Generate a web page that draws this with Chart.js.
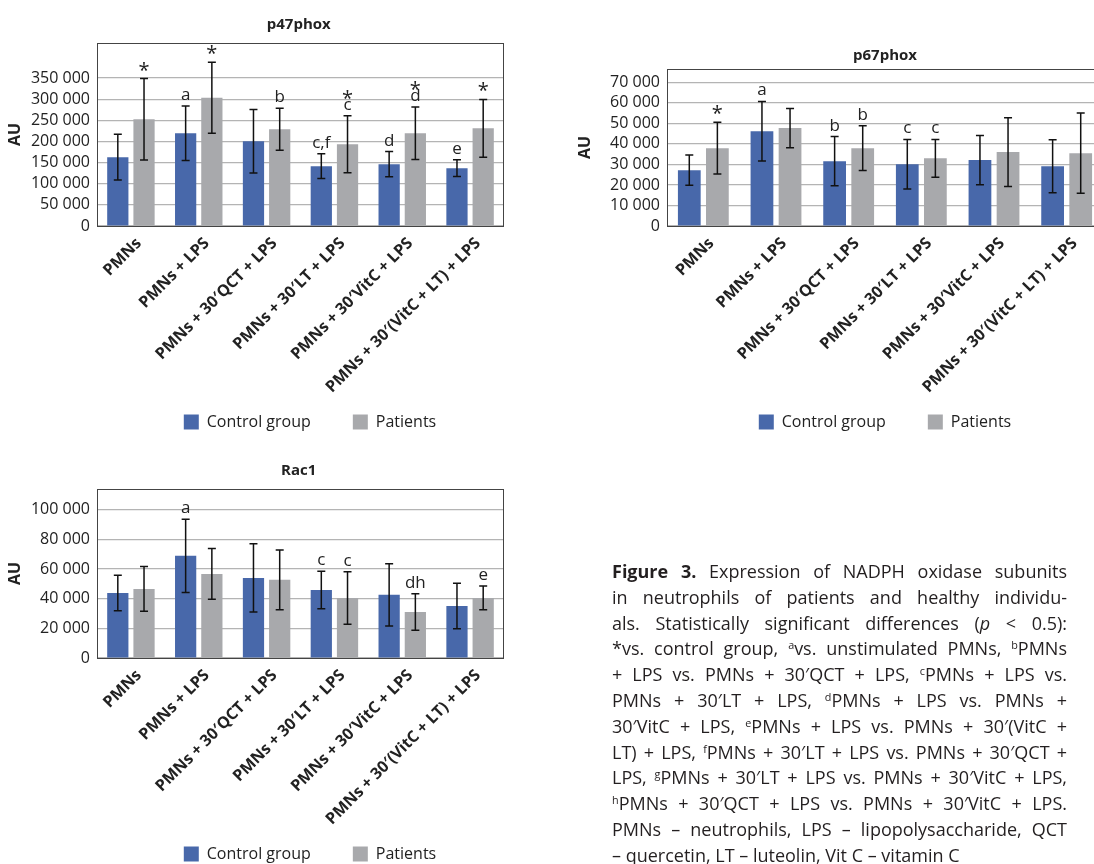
<!DOCTYPE html>
<html>
<head>
<meta charset="utf-8">
<script src="https://cdn.jsdelivr.net/npm/chart.js@4"></script>
<style>
html, body { margin: 0; padding: 0; background: #fff; overflow: hidden; width: 1094px; height: 864px; }
canvas { position: absolute; }
#c1 { left: 0; top: 0; }
#c2 { left: 575px; top: 0; }
#c3 { left: 0; top: 440px; }
#caption { position: absolute; left: 612px; top: 559px; width: 455px; font-family: 'Open Sans', sans-serif; font-size: 18px; line-height: 25.8px; color: #231f20; }
#caption div { white-space: nowrap; text-align: justify; text-align-last: justify; }
#caption div.last { text-align-last: left; }
sup { font-size: 0.6em; line-height: 0; vertical-align: 0.6em; }
</style>
</head>
<body>
<canvas id="c1" width="620" height="440"></canvas>
<canvas id="c2" width="620" height="440"></canvas>
<canvas id="c3" width="620" height="432"></canvas>
<div id="caption">
<div><b>Figure 3.</b> Expression of NADPH oxidase subunits</div>
<div>in neutrophils of patients and healthy individu-</div>
<div>als. Statistically significant differences (<i>p</i> &lt; 0.5):</div>
<div>*vs. control group, <sup>a</sup>vs. unstimulated PMNs, <sup>b</sup>PMNs</div>
<div>+ LPS vs. PMNs + 30′QCT + LPS, <sup>c</sup>PMNs + LPS vs.</div>
<div>PMNs + 30′LT + LPS, <sup>d</sup>PMNs + LPS vs. PMNs +</div>
<div>30′VitC + LPS, <sup>e</sup>PMNs + LPS vs. PMNs + 30′(VitC +</div>
<div>LT) + LPS, <sup>f</sup>PMNs + 30′LT + LPS vs. PMNs + 30′QCT +</div>
<div>LPS, <sup>g</sup>PMNs + 30′LT + LPS vs. PMNs + 30′VitC + LPS,</div>
<div><sup>h</sup>PMNs + 30′QCT + LPS vs. PMNs + 30′VitC + LPS.</div>
<div>PMNs – neutrophils, LPS – lipopolysaccharide, QCT</div>
<div class="last">– quercetin, LT – luteolin, Vit C – vitamin C</div>
</div>
<script>
// shared categories
const groups = ['PMNs', 'PMNs + LPS', 'PMNs + 30′QCT + LPS', 'PMNs + 30′LT + LPS', 'PMNs + 30′VitC + LPS', 'PMNs + 30′(VitC + LT) + LPS'];
const seriesNames = ['Control group', 'Patients'];
const seriesColors = ['#4868aa', '#a8a9ac'];

// p47phox
const p47Control = [162800, 219400, 200600, 141600, 146300, 136900];
const p47ControlSD = [54200, 64500, 75300, 29500, 29800, 19600];
const p47Patients = [252500, 303600, 228900, 193500, 219400, 231200];
const p47PatientsSD = [96300, 84100, 49500, 67600, 62100, 68400];
const p47ControlMarks = ['', 'a', '', 'c,f', 'd', 'e'];
const p47PatientsMarks = ['*', '*', 'b', '*\nc', '*\nd', '*'];
const p47Ticks = [0, 50000, 100000, 150000, 200000, 250000, 300000, 350000];

// p67phox
const p67Control = [27200, 46200, 31600, 30100, 32100, 29100];
const p67ControlSD = [7400, 14500, 12000, 12100, 12000, 12900];
const p67Patients = [37900, 47700, 37900, 33000, 36000, 35500];
const p67PatientsSD = [12600, 9600, 10900, 9200, 16700, 19600];
const p67ControlMarks = ['', 'a', 'b', 'c', '', ''];
const p67PatientsMarks = ['*', '', 'b', 'c', '', ''];
const p67Ticks = [0, 10000, 20000, 30000, 40000, 50000, 60000, 70000];

// Rac1
const racControl = [43900, 68900, 54000, 45900, 42600, 35100];
const racControlSD = [12000, 24700, 23000, 12600, 21000, 15400];
const racPatients = [46600, 56700, 52700, 40500, 31100, 40500];
const racPatientsSD = [15100, 17100, 20200, 17700, 12300, 8000];
const racControlMarks = ['', 'a', '', 'c', '', ''];
const racPatientsMarks = ['', '', '', 'c', 'dh', 'e'];
const racTicks = [0, 20000, 40000, 60000, 80000, 100000];

Chart.defaults.font.family = "'Open Sans', sans-serif";
Chart.defaults.color = '#222';

const fmt = v => String(v).replace(/\B(?=(\d{3})+(?!\d))/g, ' ');

// error bars and significance letters
const errorBars = {
    id: 'errorBars',
    afterDatasetsDraw(chart) {
        const ctx = chart.ctx;
        const y = chart.scales.y;
        const area = chart.chartArea;
        ctx.save();
        ctx.strokeStyle = '#444';
        ctx.lineWidth = 1;
        ctx.strokeRect(area.left + 0.5, area.top + 0.5, area.right - area.left - 1, area.bottom - area.top);
        ctx.restore();
        chart.data.datasets.forEach((ds, i) => {
            chart.getDatasetMeta(i).data.forEach((bar, j) => {
                const top = y.getPixelForValue(ds.data[j] + ds.sd[j]);
                const bot = y.getPixelForValue(ds.data[j] - ds.sd[j]);
                ctx.save();
                ctx.strokeStyle = '#111';
                ctx.lineWidth = 1.5;
                ctx.beginPath();
                ctx.moveTo(bar.x, top); ctx.lineTo(bar.x, bot);
                ctx.moveTo(bar.x - 4, top); ctx.lineTo(bar.x + 4, top);
                ctx.moveTo(bar.x - 4, bot); ctx.lineTo(bar.x + 4, bot);
                ctx.stroke();
                const lines = ds.marks[j] ? ds.marks[j].split('\n').reverse() : [];
                ctx.fillStyle = '#222';
                ctx.textAlign = 'center';
                ctx.textBaseline = 'alphabetic';
                lines.forEach((t, k) => {
                    ctx.font = t === '*' ? "20px 'Open Sans'" : "17px 'Open Sans'";
                    ctx.fillText(t, bar.x, top - 6 - k * 9 + (t === '*' ? 4 : 0));
                });
                ctx.restore();
            });
        });
    }
};

// legend: wider gap after the first item
const legendLabels = chart => Chart.defaults.plugins.legend.labels.generateLabels(chart)
    .map((item, i) => i === 0 ? Object.assign(item, { text: item.text + '\u2003\u2003' }) : item);

function makeChart(id, title, ctrl, ctrlSD, ctrlMarks, pat, patSD, patMarks, ticks, yMax, lay) {
    new Chart(document.getElementById(id), {
        type: 'bar',
        data: {
            labels: groups,
            datasets: [
                { label: seriesNames[0], data: ctrl, sd: ctrlSD, marks: ctrlMarks, backgroundColor: seriesColors[0] },
                { label: seriesNames[1], data: pat, sd: patSD, marks: patMarks, backgroundColor: seriesColors[1] }
            ]
        },
        options: {
            responsive: false,
            animation: false,
            categoryPercentage: 0.773,
            barPercentage: 0.81,
            plugins: {
                title: {
                    display: true,
                    text: title + lay.titleTail,
                    font: { size: 15, weight: 'bold' },
                    color: '#222',
                    padding: { top: lay.titleTop, bottom: lay.titleBottom }
                },
                legend: {
                    position: 'bottom',
                    labels: { boxWidth: 15, boxHeight: 15, padding: 10, font: { size: 16 }, color: '#222', generateLabels: legendLabels }
                },
                tooltip: { enabled: false }
            },
            scales: {
                x: {
                    grid: { display: false },
                    border: { display: false },
                    ticks: { autoSkip: false, minRotation: 45, maxRotation: 45, padding: 0, labelOffset: 8, font: { size: 16, weight: 'bold' }, color: '#222' },
                    afterFit: s => { s.height = lay.xHeight; }
                },
                y: {
                    min: 0,
                    max: yMax,
                    border: { display: false },
                    grid: { color: '#b4b4b4', lineWidth: 1.2, drawTicks: false },
                    ticks: { padding: 7, font: { size: 16 }, color: '#222', callback: v => fmt(v) },
                    afterBuildTicks: s => { s.ticks = ticks.map(v => ({ value: v })); },
                    title: { display: true, text: 'AU', font: { size: 16, weight: 'bold' }, color: '#222', padding: { top: lay.auPad, bottom: 0 } },
                    afterFit: s => { s.width = lay.yWidth; }
                },
                yR: {
                    type: 'linear',
                    position: 'right',
                    ticks: { display: false },
                    grid: { display: false },
                    border: { display: false },
                    afterFit: s => { s.width = lay.rWidth; }
                }
            }
        },
        plugins: [errorBars]
    });
}

window.onload = function() {
    makeChart('c1', 'p47phox', p47Control, p47ControlSD, p47ControlMarks, p47Patients, p47PatientsSD, p47PatientsMarks, p47Ticks, 433000,
        { titleTop: 16, titleBottom: 9, xHeight: 178, yWidth: 97, rWidth: 116, auPad: 6, titleTail: '\u2003\u2002' });
    makeChart('c2', 'p67phox', p67Control, p67ControlSD, p67ControlMarks, p67Patients, p67PatientsSD, p67PatientsMarks, p67Ticks, 76500,
        { titleTop: 47, titleBottom: 4, xHeight: 178, yWidth: 92, rWidth: 92, auPad: 1, titleTail: '' });
    makeChart('c3', 'Rac1', racControl, racControlSD, racControlMarks, racPatients, racPatientsSD, racPatientsMarks, racTicks, 114000,
        { titleTop: 22, titleBottom: 9, xHeight: 178, yWidth: 97, rWidth: 116, auPad: 6, titleTail: '\u2003\u2002' });
};
</script>
</body>
</html>
